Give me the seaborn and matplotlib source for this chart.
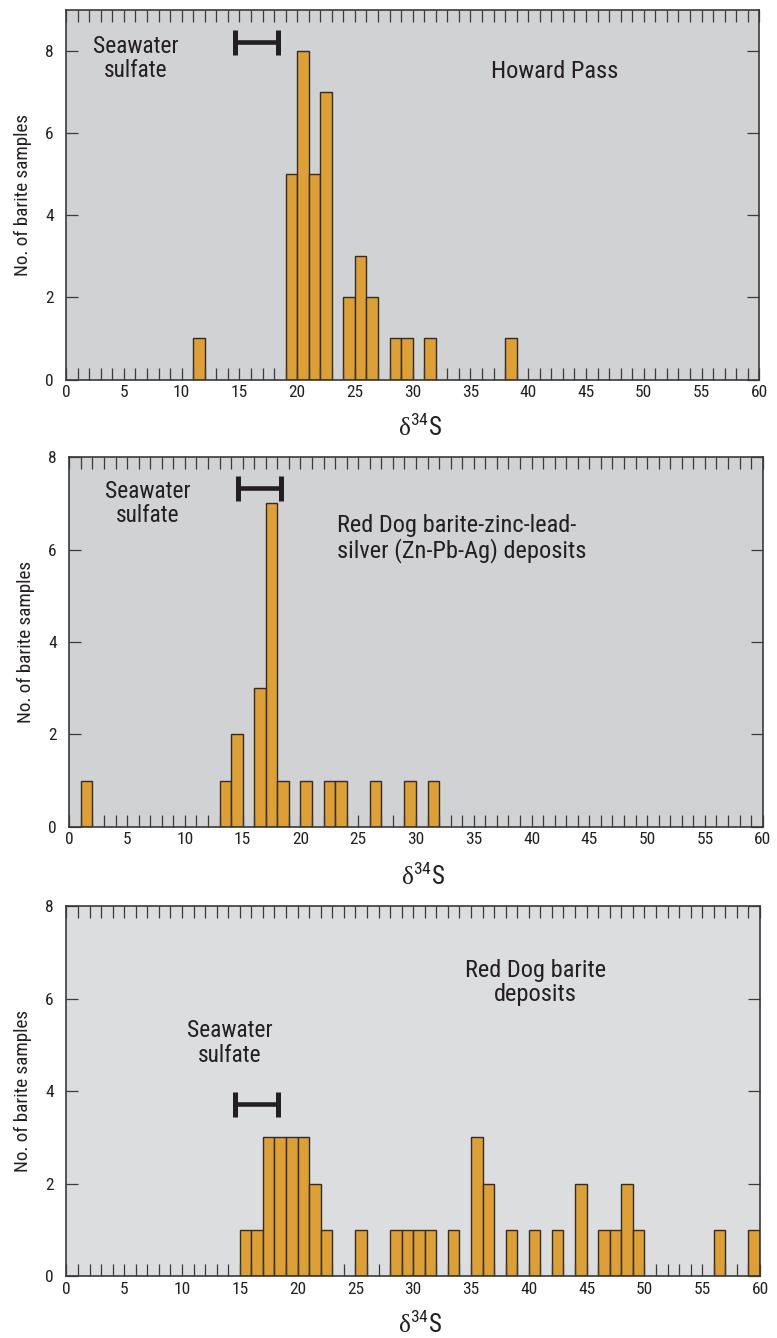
import numpy as np
import pandas as pd
import matplotlib
matplotlib.use("Agg")
import matplotlib.pyplot as plt
from matplotlib import font_manager
import seaborn as sns

# Left edge of each 1-per-mil bin and the number of barite samples in it
howard_bins = [11, 19, 20, 21, 22, 24, 25, 26, 28, 29, 31, 38]
howard_counts = [1, 5, 8, 5, 7, 2, 3, 2, 1, 1, 1, 1]

zpa_bins = [1, 13, 14, 16, 17, 18, 20, 22, 23, 26, 29, 31]
zpa_counts = [1, 1, 2, 3, 7, 1, 1, 1, 1, 1, 1, 1]

barite_bins = [15, 16, 17, 18, 19, 20, 21, 22, 25, 28, 29, 30, 31, 33,
               35, 36, 38, 40, 42, 44, 46, 47, 48, 49, 56, 59]
barite_counts = [1, 1, 3, 3, 3, 3, 2, 1, 1, 1, 1, 1, 1, 1,
                 3, 2, 1, 1, 1, 2, 1, 1, 2, 1, 1, 1]

# Range of Paleozoic seawater sulfate (per mil)
seawater_range = (14.6, 18.3)

x_ticks = list(range(0, 61))
x_ticklabels = [str(v) if v % 5 == 0 else "" for v in x_ticks]
y_ticks = [0, 2, 4, 6, 8]

titles = ["Howard Pass",
          "Red Dog barite-zinc-lead-\nsilver (Zn-Pb-Ag) deposits",
          "Red Dog barite\ndeposits"]

BAR = "#DE9F34"
EDGE = "#2E2C2C"
INK = "#231F20"

sns.set_style("ticks")

# pick a narrow sans family if one is available
_names = {f.name for f in font_manager.fontManager.ttflist}
_stretch = "normal"
SANS = "Roboto"
for cand in ["Roboto Condensed", "Liberation Sans Narrow", "Open Sans Condensed",
             "Noto Sans Condensed"]:
    if cand in _names:
        SANS = cand
        break
else:
    if any(f.name == "DejaVu Sans" and f.stretch == "condensed"
           for f in font_manager.fontManager.ttflist):
        SANS = "DejaVu Sans"
        _stretch = "condensed"

plt.rcParams["font.family"] = [SANS, "DejaVu Sans"]
plt.rcParams["font.stretch"] = _stretch
plt.rcParams["mathtext.fontset"] = "custom"
plt.rcParams["mathtext.rm"] = "Liberation Serif"
plt.rcParams["mathtext.sf"] = SANS
plt.rcParams["text.color"] = INK
plt.rcParams["axes.labelcolor"] = INK

fig = plt.figure(figsize=(7.77, 13.38), dpi=100)

W, H = 777.0, 1338.0


def make_axes(left, top, right, bottom):
    return fig.add_axes([left / W, 1 - bottom / H, (right - left) / W, (bottom - top) / H])


def draw_panel(ax, bins, counts, ymax, face, sw_y, sw_text_xy, title, title_xy, title_ha,
               ylabel_y, xlabel_y):
    ax.set_facecolor(face)
    df = pd.DataFrame({"d34S": np.asarray(bins, dtype=float) + 0.5,
                       "n": np.asarray(counts, dtype=float)})
    sns.histplot(data=df, x="d34S", weights="n", binwidth=1, binrange=(0, 60), ax=ax,
                 color=BAR, edgecolor=EDGE, linewidth=1.0, alpha=1.0)
    # drop empty bins so no edge strokes run along the baseline
    for p in list(ax.patches):
        if p.get_height() == 0:
            p.remove()

    ax.set_xlim(0, 60)
    ax.set_ylim(0, ymax)
    ax.set_axisbelow(False)
    ax.set_xticks(x_ticks)
    ax.set_xticklabels(x_ticklabels)
    ax.set_yticks(y_ticks)
    ax.tick_params(axis="both", which="both", direction="in", length=8.6, width=0.9,
                   color="#3a3a3a", top=True, right=True, labelsize=12.5,
                   labelcolor=INK)
    ax.tick_params(axis="x", pad=4)
    ax.tick_params(axis="y", pad=9)
    for s in ax.spines.values():
        s.set_linewidth(1.1)
        s.set_color("#2a2a2a")

    ax.set_ylabel("No. of barite samples", fontsize=13.8, va="center")
    ax.yaxis.set_label_coords(-0.062 * 693.0 / (ax.get_position().width * W), ylabel_y)
    ax.set_xlabel(r"$\mathrm{\delta}^{\mathsf{34}}$S", fontsize=18, va="center")
    ax.xaxis.set_label_coords(0.51, xlabel_y)

    # seawater sulfate range bar
    lo, hi = seawater_range
    ax.errorbar([(lo + hi) / 2], [sw_y], xerr=[(hi - lo) / 2], fmt="none",
                ecolor=INK, elinewidth=3.3, capsize=9, capthick=3.6)
    ax.text(sw_text_xy[0], sw_text_xy[1], "Seawater\nsulfate", ha="center",
            va="center", fontsize=16.8, linespacing=1.1)
    ax.text(title_xy[0], title_xy[1], title, ha=title_ha, va="center",
            fontsize=17.6, linespacing=1.05)


ax1 = make_axes(66.1, 10.0, 759.3, 379.5)
draw_panel(ax1, howard_bins, howard_counts, 9, "#D1D2D4", 8.21, (6.0, 7.82),
           titles[0], (42.3, 7.5), "center", 0.5, -0.131)

ax2 = make_axes(69.3, 457.3, 762.7, 826.8)
draw_panel(ax2, zpa_bins, zpa_counts, 8, "#D1D2D4", 7.34, (6.8, 7.0),
           titles[1], (23.2, 6.25), "left", 0.5, -0.135)

ax3 = make_axes(66.4, 906.4, 760.0, 1276.0)
draw_panel(ax3, barite_bins, barite_counts, 8, "#DCDDDF", 3.72, (14.15, 5.04),
           titles[2], (40.6, 6.36), "center", 0.5, -0.13)

fig.savefig("out.png", dpi=100)
